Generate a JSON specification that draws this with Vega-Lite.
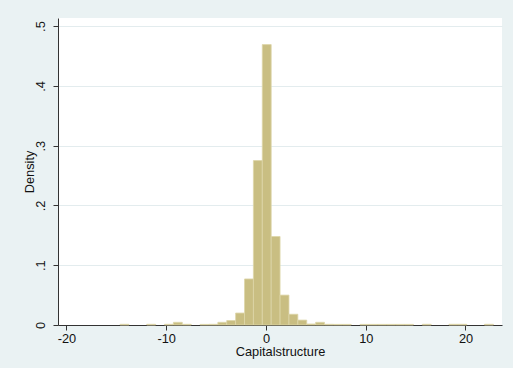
{
  "$schema": "https://vega.github.io/schema/vega-lite/v6.json",
  "width": 444,
  "height": 307,
  "autosize": {"type": "none"},
  "padding": {"left": 58, "top": 18, "right": 11, "bottom": 43},
  "background": "#eaf2f3",
  "config": {
    "view": {"fill": "white", "stroke": null},
    "font": "Liberation Sans",
    "axis": {
      "labelFont": "Liberation Sans",
      "titleFont": "Liberation Sans",
      "labelFontSize": 12.8,
      "titleFontSize": 12.8,
      "titleFontWeight": "normal",
      "labelColor": "#111",
      "titleColor": "#111",
      "domainColor": "#333",
      "tickColor": "#333",
      "tickSize": 5
    }
  },
  "data": {
    "values": [
      {"bin_start": -14.626, "bin_end": -13.735, "density": 0.0012},
      {"bin_start": -11.953, "bin_end": -11.062, "density": 0.0012},
      {"bin_start": -10.171, "bin_end": -9.28, "density": 0.0012},
      {"bin_start": -9.28, "bin_end": -8.389, "density": 0.0045},
      {"bin_start": -8.389, "bin_end": -7.498, "density": 0.0012},
      {"bin_start": -6.607, "bin_end": -5.716, "density": 0.001},
      {"bin_start": -5.716, "bin_end": -4.825, "density": 0.0012},
      {"bin_start": -4.825, "bin_end": -3.934, "density": 0.0045},
      {"bin_start": -3.934, "bin_end": -3.043, "density": 0.0075},
      {"bin_start": -3.043, "bin_end": -2.152, "density": 0.02},
      {"bin_start": -2.152, "bin_end": -1.261, "density": 0.077},
      {"bin_start": -1.261, "bin_end": -0.37, "density": 0.275},
      {"bin_start": -0.37, "bin_end": 0.521, "density": 0.469},
      {"bin_start": 0.521, "bin_end": 1.412, "density": 0.148},
      {"bin_start": 1.412, "bin_end": 2.303, "density": 0.05},
      {"bin_start": 2.303, "bin_end": 3.194, "density": 0.018},
      {"bin_start": 3.194, "bin_end": 4.085, "density": 0.0082},
      {"bin_start": 4.085, "bin_end": 4.976, "density": 0.0017},
      {"bin_start": 4.976, "bin_end": 5.867, "density": 0.0045},
      {"bin_start": 5.867, "bin_end": 6.758, "density": 0.0012},
      {"bin_start": 6.758, "bin_end": 7.649, "density": 0.001},
      {"bin_start": 7.649, "bin_end": 8.54, "density": 0.001},
      {"bin_start": 9.431, "bin_end": 10.322, "density": 0.001},
      {"bin_start": 10.322, "bin_end": 11.213, "density": 0.001},
      {"bin_start": 11.213, "bin_end": 12.104, "density": 0.001},
      {"bin_start": 12.104, "bin_end": 12.995, "density": 0.001},
      {"bin_start": 12.995, "bin_end": 13.886, "density": 0.001},
      {"bin_start": 13.886, "bin_end": 14.777, "density": 0.001},
      {"bin_start": 15.668, "bin_end": 16.559, "density": 0.0012},
      {"bin_start": 18.341, "bin_end": 19.232, "density": 0.0012},
      {"bin_start": 19.232, "bin_end": 20.123, "density": 0.0012},
      {"bin_start": 21.905, "bin_end": 22.796, "density": 0.0012}
    ]
  },
  "mark": {"type": "rect", "fill": "#c9be82", "stroke": "#ddd5a8", "strokeWidth": 0.8},
  "encoding": {
    "x": {
      "field": "bin_start",
      "type": "quantitative",
      "scale": {"domain": [-20.85, 23.66], "nice": false, "zero": false},
      "axis": {
        "title": "Capitalstructure",
        "values": [-20, -10, 0, 10, 20],
        "labelExpr": "'' + datum.value",
        "grid": false,
        "labelPadding": 2,
        "titlePadding": 1
      }
    },
    "x2": {"field": "bin_end"},
    "y": {
      "field": "density",
      "type": "quantitative",
      "scale": {"domain": [0, 0.5135], "nice": false},
      "axis": {
        "title": "Density",
        "values": [0, 0.1, 0.2, 0.3, 0.4, 0.5],
        "labelExpr": "datum.value == 0 ? '0' : replace(format(datum.value, '.1f'), '0.', '.')",
        "labelAngle": -90,
        "labelAlign": "center",
        "labelBaseline": "bottom",
        "labelPadding": 6,
        "grid": true,
        "gridColor": "#e3ecee",
        "gridWidth": 1.2,
        "titlePadding": -2
      }
    },
    "y2": {"datum": 0}
  }
}
